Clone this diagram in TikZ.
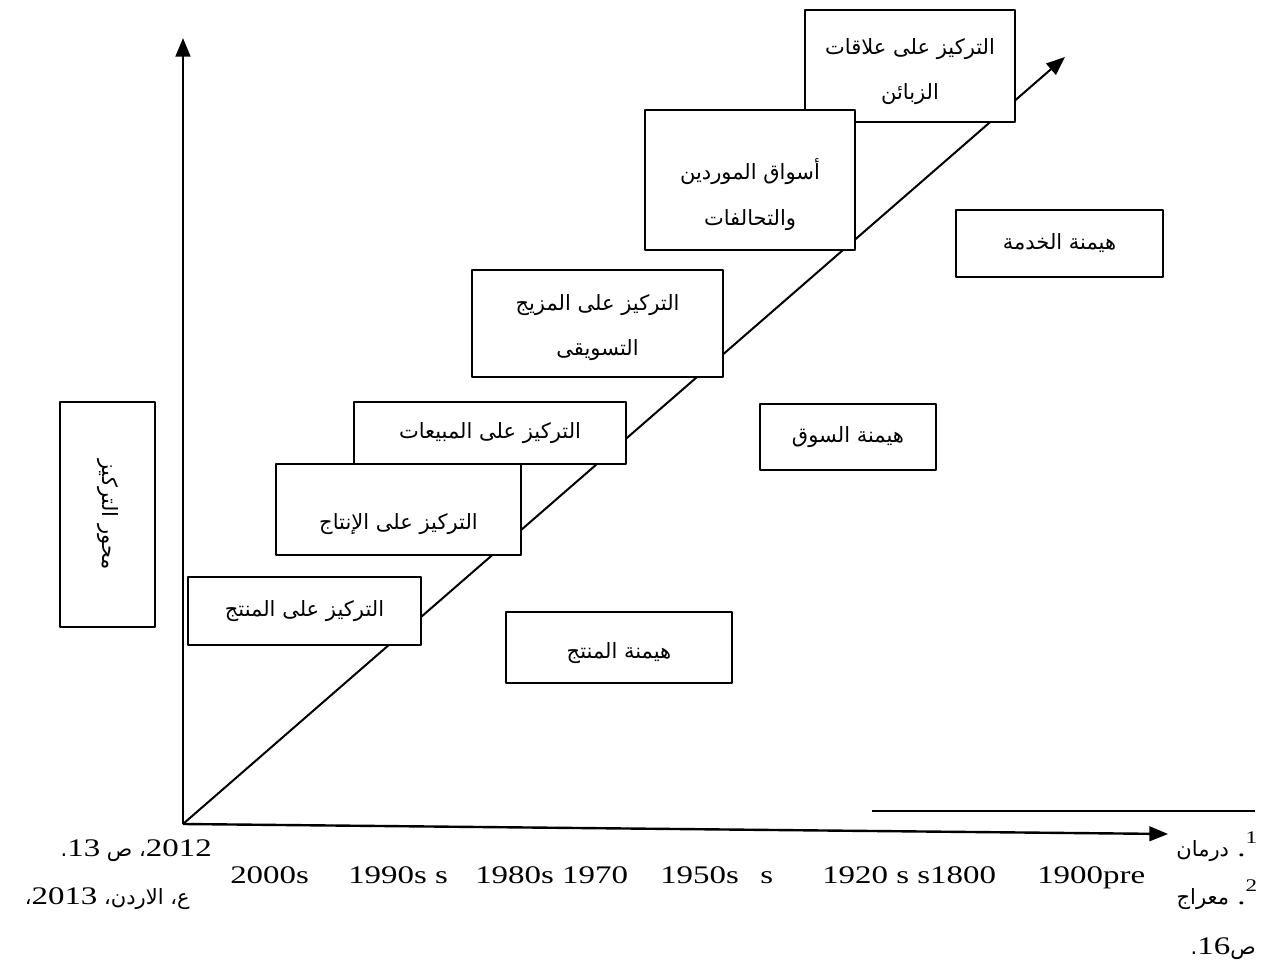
\documentclass[tikz,border=0pt]{standalone}
\usepackage{fontspec}
\setmainfont{Liberation Serif}[FakeStretch=1.3]
\newfontfamily\arabicfont[Script=Arabic,Scale=0.83]{DejaVu Sans}
\TeXXeTstate=1
\usetikzlibrary{arrows.meta}
\newcommand{\lat}[1]{\beginL{\rmfamily #1}\endL}

\begin{document}
\begin{tikzpicture}[x=0.75pt,y=-0.75pt,line join=round,>={Triangle[length=14pt,width=11pt]},
  box/.style={draw,line width=1.2pt,fill=white,align=center,inner sep=0pt,font=\fontsize{19}{34}\selectfont\arabicfont},
  boxtxt/.style={align=center,inner sep=0pt,font=\fontsize{19}{34}\selectfont\arabicfont},
  yearlbl/.style={anchor=base west,inner sep=0pt,font=\fontsize{19}{22}\selectfont},
  fnote/.style={inner sep=0pt,font=\fontsize{19}{22}\selectfont}]
\useasboundingbox (0,0) rectangle (1264,962);
% axes
\coordinate (O) at (183,824);
\coordinate (ytop) at (183,38);
\coordinate (xend) at (1168,834);
\coordinate (dend) at (1065,57);
\draw[line width=2pt,->] (O) -- (ytop);
\draw[line width=1.8pt,->] (O) -- (xend);
\draw[line width=1.5pt,->] (O) -- (dend);
% boxes
\node[box,minimum width=157.5pt,minimum height=84pt,label={[boxtxt,yshift=-4pt]center:{\beginR التركيز على علاقات\endR\\\beginR الزبائن\endR}}] (crm) at (910,66) {};
\node[box,minimum width=157.5pt,minimum height=105pt,label={[boxtxt,yshift=-11pt]center:{\beginR أسواق الموردين\endR\\\beginR والتحالفات\endR}}] (supp) at (750,180) {};
\node[box,minimum width=155.25pt,minimum height=50.25pt] (servdom) at (1059.5,243.5) {\beginR هيمنة الخدمة\endR};
\node[box,minimum width=188.25pt,minimum height=80.25pt,label={[boxtxt,yshift=-3pt]center:{\beginR التركيز على المزيج\endR\\\beginR التسويقى\endR}}] (mix) at (597.5,323.5) {};
\node[box,minimum width=204pt,minimum height=46.5pt] (sales) at (490,433) {\beginR التركيز على المبيعات\endR};
\node[box,minimum width=132pt,minimum height=49.5pt] (mktdom) at (848,437) {\beginR هيمنة السوق\endR};
\node[box,minimum width=183.75pt,minimum height=68.25pt,label={[boxtxt,yshift=-11pt]center:{\beginR التركيز على الإنتاج\endR}}] (prodn) at (398.5,509.5) {};
\node[box,minimum width=174.75pt,minimum height=51pt] (prod) at (304.5,611) {\beginR التركيز على المنتج\endR};
\node[box,minimum width=169.5pt,minimum height=53.25pt,label={[boxtxt,yshift=-4pt]center:{\beginR هيمنة المنتج\endR}}] (proddom) at (619,647.5) {};
\node[box,rotate=-90,minimum width=168.75pt,minimum height=71.25pt] (focus) at (107.5,514.5) {\beginR محور التركيز\endR};
% years
\node[yearlbl] (y2000) at (230,883) {2000s};
\node[yearlbl] (y1990) at (348,883) {1990s s};
\node[yearlbl] (y1980) at (475,883) {1980s 1970};
\node[yearlbl] (y1950) at (660,883) {1950s};
\node[yearlbl] (ys) at (760,883) {s};
\node[yearlbl] (y1920) at (822,883) {1920 s s1800};
\node[yearlbl] (y1900) at (1037,883) {1900pre};
% footnotes
\draw[line width=1.2pt] (872,811) -- (1255,811);
\node[fnote,anchor=base east] (fn1r) at (1258,856) {{\arabicfont\beginR درمان\endR} .\raisebox{3pt}{\textsuperscript{1}}};
\node[fnote,anchor=base east] (fn1l) at (212,856) {{\arabicfont\beginR\lat{2012}، ص \lat{13}.\endR}};
\node[fnote,anchor=base east] (fn2r) at (1258,904) {{\arabicfont\beginR معراج\endR} .\raisebox{3pt}{\textsuperscript{2}}};
\node[fnote,anchor=base east] (fn2l) at (190,904) {{\arabicfont\beginR ع، الاردن، \lat{2013}،\endR}};
\node[fnote,anchor=base east] (fn3) at (1256,954) {{\arabicfont\beginR ص\lat{16}.\endR}};
\end{tikzpicture}
\end{document}
